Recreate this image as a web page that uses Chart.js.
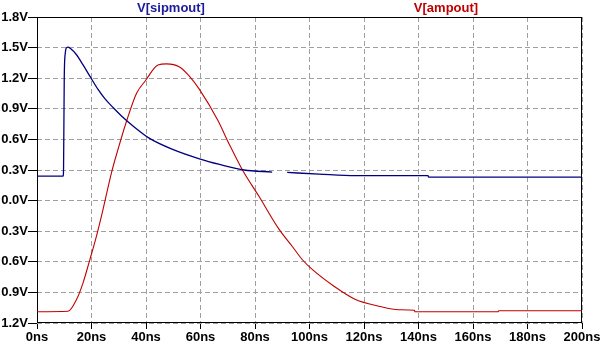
<!DOCTYPE html>
<html>
<head>
<meta charset="utf-8">
<script src="https://cdn.jsdelivr.net/npm/chart.js@4/dist/chart.umd.min.js"></script>
<style>
  html, body { margin: 0; padding: 0; background: #fff; }
  canvas { display: block; }
</style>
</head>
<body>
<canvas id="plot" width="604" height="347"></canvas>
<script>
// time axis in ns, voltages in V
const sipmTime = [0, 9.6, 9.75, 10.0, 10.4, 10.9, 11.4, 12.3, 14.5, 16.9, 19.4, 22.4, 24.9, 28, 31, 36, 41.3, 50, 59.6, 67, 76, 86.3, 89, 91.8, 103.5, 116.9, 143.5, 143.7, 200];
const sipmVolt = [0.24, 0.24, 0.33, 1.2, 1.45, 1.50, 1.505, 1.49, 1.43, 1.33, 1.22, 1.09, 1.00, 0.91, 0.83, 0.715, 0.61, 0.50, 0.41, 0.355, 0.30, 0.28, null, 0.276, 0.26, 0.245, 0.244, 0.23, 0.23];

const ampTime = [0, 11.4, 14.5, 16.9, 19.4, 21.8, 24.2, 27.3, 29.7, 33, 36.5, 39.9, 44.4, 47.5, 52.3, 55.9, 59.6, 66.3, 70.6, 75.4, 81.5, 88.8, 93.7, 97.4, 101, 109, 116.9, 125.4, 132.7, 138.5, 138.7, 169.2, 169.4, 200];
const ampVolt = [-1.09, -1.085, -0.97, -0.806, -0.578, -0.35, -0.09, 0.27, 0.50, 0.79, 1.05, 1.18, 1.33, 1.34, 1.31, 1.22, 1.09, 0.79, 0.55, 0.30, 0.04, -0.28, -0.45, -0.58, -0.675, -0.84, -0.97, -1.035, -1.07, -1.075, -1.09, -1.09, -1.08, -1.08];

const xTicks = [0, 20, 40, 60, 80, 100, 120, 140, 160, 180, 200];
const yTicks = [-1.2, -0.9, -0.6, -0.3, 0.0, 0.3, 0.6, 0.9, 1.2, 1.5, 1.8];

const traceNames = ["V[sipmout]", "V[ampout]"];
const traceColors = ["#000080", "#c00000"];
const labelColors = ["#1a1a9a", "#c00000"];

const tickFont = { family: "'Liberation Sans', Arial, sans-serif", size: 13, weight: "bold" };

// trace names above the plot + black frame
const frame = {
  id: "frame",
  beforeDatasetsDraw(chart) {
    const { ctx, chartArea: a } = chart;
    ctx.save();
    ctx.strokeStyle = "#000";
    ctx.lineWidth = 1;
    ctx.setLineDash([]);
    ctx.strokeRect(Math.round(a.left) + 0.5, Math.round(a.top) + 0.5,
      Math.round(a.right - a.left) - 1, Math.round(a.bottom - a.top) - 1);
    ctx.restore();
  },
  afterDraw(chart) {
    const ctx = chart.ctx;
    ctx.save();
    ctx.font = "bold 13px 'Liberation Sans', Arial, sans-serif";
    ctx.textAlign = "center";
    ctx.textBaseline = "middle";
    ctx.fillStyle = labelColors[0];
    ctx.fillText(traceNames[0], 171, 8);
    ctx.fillStyle = labelColors[1];
    ctx.fillText(traceNames[1], 446, 8);
    ctx.restore();
  }
};

const gridOpts = {
  color: "#a0a0a0",
  borderDash: [5, 3],
  tickColor: "#000",
  tickBorderDash: []
};

new Chart(document.getElementById("plot"), {
  type: "line",
  data: {
    datasets: [
      {
        label: traceNames[0],
        data: sipmTime.map((t, i) => ({ x: t, y: sipmVolt[i] })),
        borderColor: traceColors[0],
        borderWidth: 1.3,
        pointRadius: 0,
        cubicInterpolationMode: "monotone",
        spanGaps: false
      },
      {
        label: traceNames[1],
        data: ampTime.map((t, i) => ({ x: t, y: ampVolt[i] })),
        borderColor: traceColors[1],
        borderWidth: 1.1,
        pointRadius: 0,
        cubicInterpolationMode: "monotone"
      }
    ]
  },
  options: {
    responsive: false,
    animation: false,
    devicePixelRatio: 1,
    layout: { padding: { top: 17, right: 22, left: 0, bottom: 0 } },
    plugins: { legend: { display: false }, tooltip: { enabled: false } },
    scales: {
      x: {
        type: "linear",
        min: 0,
        max: 200,
        afterBuildTicks: s => { s.ticks = xTicks.map(v => ({ value: v })); },
        afterFit: s => { s.height = 24; },
        grid: Object.assign({ tickLength: 6 }, gridOpts),
        border: { display: false, dash: [5, 3] },
        ticks: {
          color: "#000",
          font: tickFont,
          padding: 1,
          maxRotation: 0,
          autoSkip: false,
          callback: v => v + "ns"
        }
      },
      y: {
        type: "linear",
        min: -1.2,
        max: 1.8,
        afterBuildTicks: s => { s.ticks = yTicks.map(v => ({ value: v })); },
        afterFit: s => { s.width = 37; },
        grid: Object.assign({ tickLength: 9 }, gridOpts),
        border: { display: false, dash: [5, 3] },
        ticks: {
          color: "#000",
          font: tickFont,
          padding: 0,
          autoSkip: false,
          callback: v => Math.abs(v).toFixed(1) + "V"
        }
      }
    }
  },
  plugins: [frame]
});
</script>
</body>
</html>
